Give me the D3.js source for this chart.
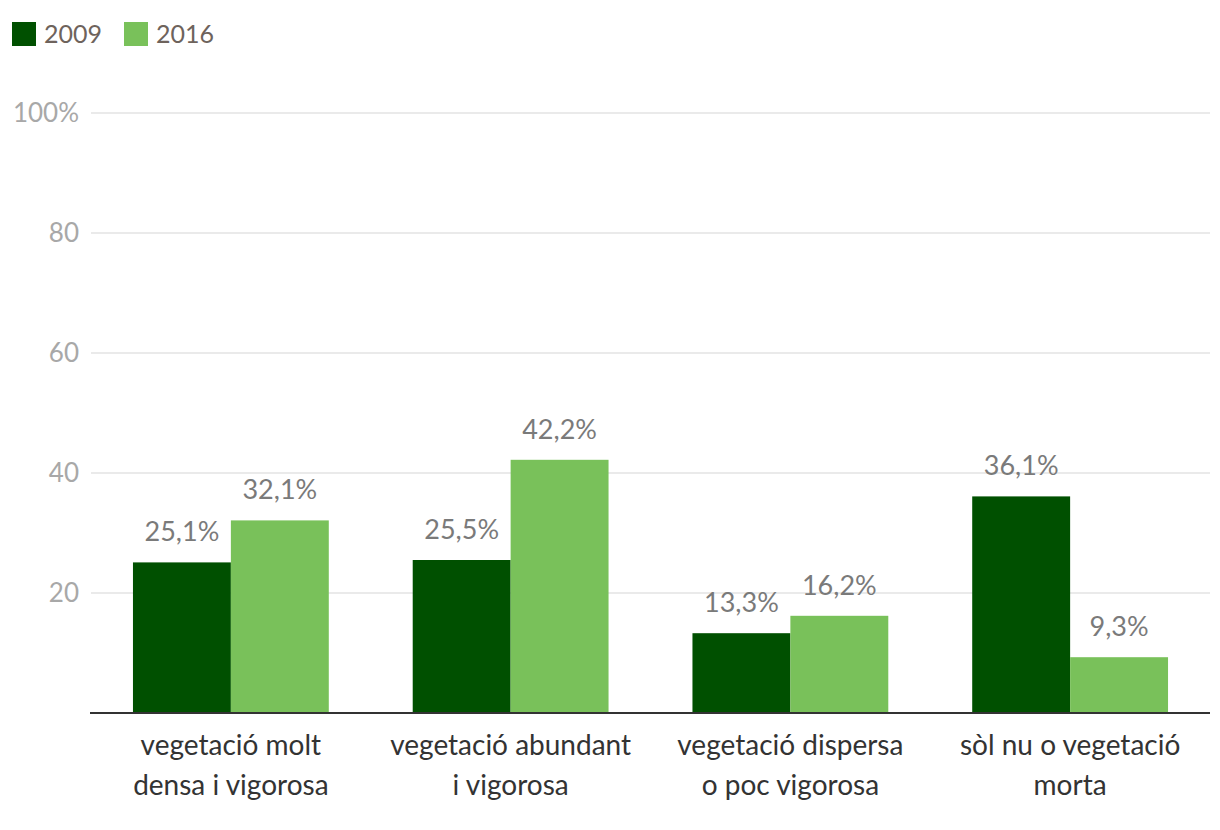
<!DOCTYPE html>
<html>
<head>
<meta charset="utf-8">
<script src="https://cdn.jsdelivr.net/npm/d3@7"></script>
<style>
  body { margin: 0; background: #fff; }
  svg { font-family: "Source Sans Pro", Lato, sans-serif; }
</style>
</head>
<body>
<svg></svg>
<script>
const categories = [
  ["vegetació molt", "densa i vigorosa"],
  ["vegetació abundant", "i vigorosa"],
  ["vegetació dispersa", "o poc vigorosa"],
  ["sòl nu o vegetació", "morta"]
];
const seriesNames = ["2009", "2016"];
const values2009 = [25.1, 25.5, 13.3, 36.1];
const values2016 = [32.1, 42.2, 16.2, 9.3];
const yTicks = [20, 40, 60, 80, 100];
const colors = ["#005000", "#79c15a"];

const width = 1220, height = 830;
const margin = {top: 113, right: 10, bottom: 117, left: 91};

const svg = d3.select("svg")
  .attr("width", width)
  .attr("height", height);

const x = d3.scaleBand()
  .domain(d3.range(categories.length))
  .range([margin.left, width - margin.right])
  .paddingInner(0.3)
  .paddingOuter(0.15);

const xSub = d3.scaleBand()
  .domain(d3.range(seriesNames.length))
  .range([0, x.bandwidth()]);

const y = d3.scaleLinear()
  .domain([0, 100])
  .range([height - margin.bottom, margin.top]);

// grid
svg.append("g")
  .selectAll("line")
  .data(yTicks)
  .join("line")
  .attr("x1", margin.left)
  .attr("x2", width - margin.right)
  .attr("y1", d => y(d))
  .attr("y2", d => y(d))
  .attr("stroke", "#e3e3e3")
  .attr("stroke-width", 1.5);

svg.append("g")
  .selectAll("text")
  .data(yTicks)
  .join("text")
  .attr("x", 79)
  .attr("y", d => y(d) + 9)
  .attr("text-anchor", "end")
  .attr("fill", "#a8a8a8")
  .attr("font-size", 26)
  .text(d => d === 100 ? d + "%" : d);

// bars
const data = categories.map((c, i) => ({i, vals: [values2009[i], values2016[i]]}));

const groups = svg.append("g")
  .selectAll("g")
  .data(data)
  .join("g")
  .attr("transform", d => `translate(${x(d.i)},0)`);

groups.selectAll("rect")
  .data(d => d.vals)
  .join("rect")
  .attr("x", (v, j) => xSub(j))
  .attr("width", xSub.bandwidth())
  .attr("y", v => y(v))
  .attr("height", v => y(0) - y(v))
  .attr("fill", (v, j) => colors[j]);

groups.selectAll("text.val")
  .data(d => d.vals)
  .join("text")
  .attr("class", "val")
  .attr("x", (v, j) => xSub(j) + xSub.bandwidth() / 2)
  .attr("y", v => y(v) - 21)
  .attr("text-anchor", "middle")
  .attr("fill", "#7a7a7a")
  .attr("font-size", 27)
  .text(v => d3.format(".1f")(v).replace(".", ",") + "%");

// baseline
svg.append("line")
  .attr("x1", margin.left - 1)
  .attr("x2", width - margin.right)
  .attr("y1", y(0))
  .attr("y2", y(0))
  .attr("stroke", "#333")
  .attr("stroke-width", 2);

// x labels
svg.append("g")
  .selectAll("text")
  .data(categories)
  .join("text")
  .attr("x", (d, i) => x(i) + x.bandwidth() / 2)
  .attr("y", 755)
  .attr("text-anchor", "middle")
  .attr("fill", "#333")
  .attr("font-size", 28)
  .selectAll("tspan")
  .data(d => d)
  .join("tspan")
  .attr("x", function() { return this.parentNode.getAttribute("x"); })
  .attr("dy", (d, k) => k === 0 ? 0 : 40)
  .text(d => d);

// legend
const legend = svg.append("g")
  .selectAll("g")
  .data(seriesNames)
  .join("g")
  .attr("transform", (d, i) => `translate(${12 + i * 112},22)`);

legend.append("rect")
  .attr("width", 24)
  .attr("height", 24)
  .attr("fill", (d, i) => colors[i]);

legend.append("text")
  .attr("x", 32)
  .attr("y", 21)
  .attr("fill", "#6e635c")
  .attr("font-size", 25)
  .text(d => d);
</script>
</body>
</html>
